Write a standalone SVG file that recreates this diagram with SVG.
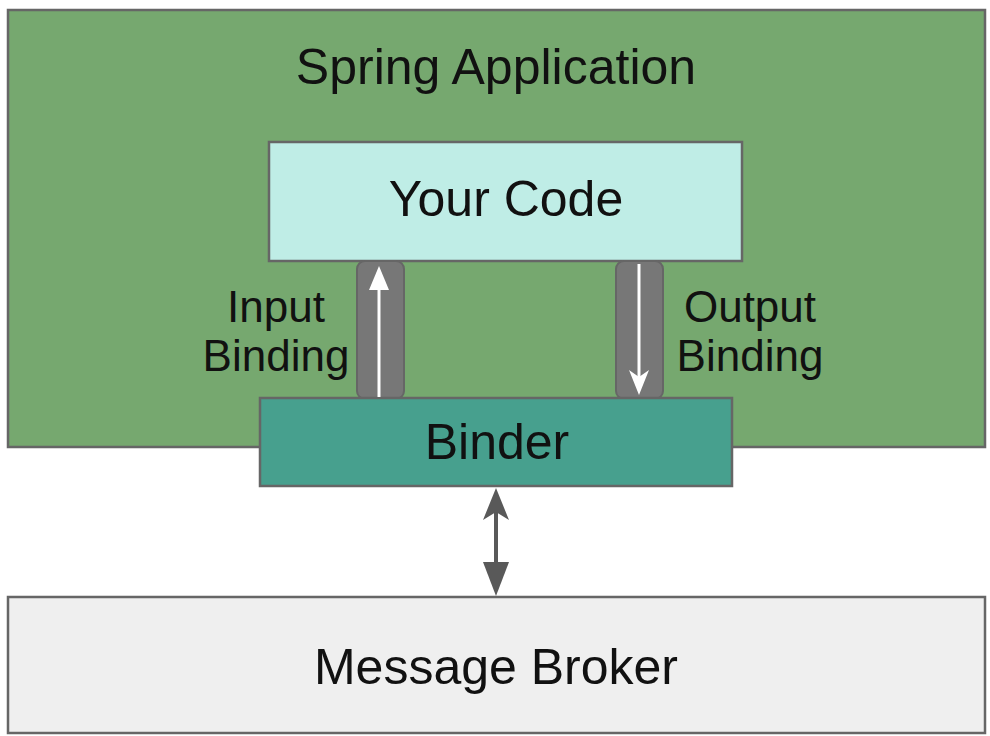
<svg xmlns="http://www.w3.org/2000/svg" width="990" height="736" viewBox="0 0 990 736">
<defs>
<style>
.box{stroke:#666666;stroke-width:2.5}
.t{font-family:"Liberation Sans",Arial,sans-serif;fill:#111;text-anchor:middle}
.big{font-size:50px}
.sm{font-size:44px}
</style>
</defs>
<rect width="990" height="736" fill="#ffffff"/>
<g id="spring-application">
<rect class="box" x="8" y="10" width="977" height="437" fill="#76a86f"/>
<text class="t big" x="496" y="84">Spring Application</text>
</g>
<g id="your-code">
<rect class="box" x="269" y="142" width="473" height="119" fill="#bfede6"/>
<text class="t big" x="506" y="216">Your Code</text>
</g>
<g id="input-binding">
<rect x="357" y="261" width="47" height="138" rx="8" fill="#777777" stroke="#666666" stroke-width="2"/>
<text class="t sm" x="276" y="322">Input</text>
<text class="t sm" x="276" y="371">Binding</text>
</g>
<g id="output-binding">
<rect x="616" y="261" width="47" height="138" rx="8" fill="#777777" stroke="#666666" stroke-width="2"/>
<text class="t sm" x="750" y="322">Output</text>
<text class="t sm" x="750" y="371">Binding</text>
</g>
<g id="binder">
<rect class="box" x="260" y="398" width="472" height="88" fill="#47a08e"/>
<text class="t big" x="497" y="459">Binder</text>
</g>
<g id="message-broker">
<rect class="box" x="8" y="597" width="977" height="136" fill="#efefef"/>
<text class="t big" x="496" y="684">Message Broker</text>
</g>
<g id="connectors">
<line x1="379" y1="397" x2="379" y2="275" stroke="#ffffff" stroke-width="3"/>
<path d="M369,290 L379,266 L389,290 z" fill="#ffffff"/>
<line x1="639" y1="264" x2="639" y2="390" stroke="#ffffff" stroke-width="3"/>
<path d="M629,370 L639,395 L649,370 L639,377 z" fill="#ffffff"/>
<line x1="496" y1="500" x2="496" y2="583" stroke="#595959" stroke-width="4"/>
<path d="M483,520 L496,488 L509,520 L496,512 z" fill="#595959"/>
<path d="M483,562 L509,562 L496,596 z" fill="#595959"/>
</g>
</svg>
